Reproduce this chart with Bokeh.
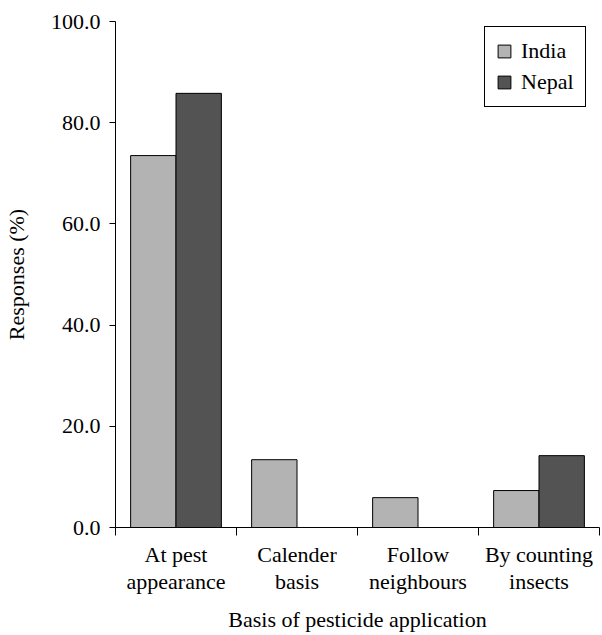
from bokeh.plotting import figure
from bokeh.models import Range1d, FixedTicker, LinearAxis, Legend, LegendItem, PrintfTickFormatter, ColumnDataSource
from bokeh.embed import file_html
from bokeh.resources import INLINE

categories = ["At pest\nappearance", "Calender\nbasis", "Follow\nneighbours", "By counting\ninsects"]
india = [73.5, 13.4, 5.9, 7.3]
nepal = [85.8, 0.0, 0.0, 14.2]
y_ticks = [0, 20, 40, 60, 80, 100]

FONT = "Liberation Serif"
FS = "22px"

n = len(categories)
centers = [i + 0.5 for i in range(n)]
bw = 0.375

p = figure(width=602, height=635, output_backend="svg", toolbar_location=None,
           x_range=Range1d(0, n), y_range=Range1d(0, 100),
           min_border_left=110, min_border_right=3, min_border_top=21, min_border_bottom=108,
           x_axis_location=None, y_axis_location=None)
p.outline_line_color = None
p.xgrid.grid_line_color = None
p.ygrid.grid_line_color = None
p.background_fill_color = "white"
p.border_fill_color = "white"

src = ColumnDataSource(dict(
    xi=[c - bw / 2 for c in centers],
    xn=[c + bw / 2 for c in centers],
    india=india, nepal=nepal))

r1 = p.vbar(x="xi", top="india", width=bw, bottom=0, source=src,
            fill_color="#b3b3b3", line_color="black", line_width=1)
r2 = p.vbar(x="xn", top="nepal", width=bw, bottom=0, source=src,
            fill_color="#535353", line_color="black", line_width=1)

# y axis
ya = LinearAxis(ticker=FixedTicker(ticks=y_ticks, minor_ticks=[]),
                formatter=PrintfTickFormatter(format="%.1f"),
                axis_label="Responses (%)")
ya.major_tick_out = 6
ya.major_tick_in = 0
ya.major_tick_line_color = "black"
ya.major_label_standoff = 9
ya.major_label_text_font = FONT
ya.major_label_text_font_size = FS
ya.major_label_text_color = "black"
ya.axis_label_text_font = FONT
ya.axis_label_text_font_size = FS
ya.axis_label_text_font_style = "normal"
ya.axis_label_text_color = "black"
ya.axis_label_standoff = 19
ya.axis_line_color = "black"
p.add_layout(ya, "left")

# x axis: labels at centers, boundary ticks as minor ticks
xa = LinearAxis(ticker=FixedTicker(ticks=centers, minor_ticks=list(range(n + 1))),
                axis_label="Basis of pesticide application")
xa.major_label_overrides = {c: lab for c, lab in zip(centers, categories)}
xa.major_tick_line_color = None
xa.major_tick_out = 0
xa.major_tick_in = 0
xa.minor_tick_out = 8
xa.minor_tick_in = 0
xa.minor_tick_line_color = "black"
xa.major_label_standoff = 6
xa.major_label_text_font = FONT
xa.major_label_text_font_size = FS
xa.major_label_text_color = "black"
xa.major_label_text_line_height = 1.1
xa.axis_label_text_font = FONT
xa.axis_label_text_font_size = FS
xa.axis_label_text_font_style = "normal"
xa.axis_label_text_color = "black"
xa.axis_label_standoff = 10
xa.axis_line_color = "black"
p.add_layout(xa, "below")

legend = Legend(items=[LegendItem(label="India", renderers=[r1]),
                       LegendItem(label="Nepal", renderers=[r2])],
                location=(369, 420))
legend.label_text_font = FONT
legend.label_text_font_size = FS
legend.label_text_color = "black"
legend.border_line_color = "black"
legend.border_line_alpha = 1
legend.border_line_width = 1
legend.background_fill_alpha = 1
legend.glyph_width = 16
legend.glyph_height = 16
legend.label_height = 26
legend.label_standoff = 9
legend.spacing = 5
legend.padding = 11
legend.margin = 0
p.add_layout(legend, "center")

open("out.html", "w").write(file_html(p, INLINE))
